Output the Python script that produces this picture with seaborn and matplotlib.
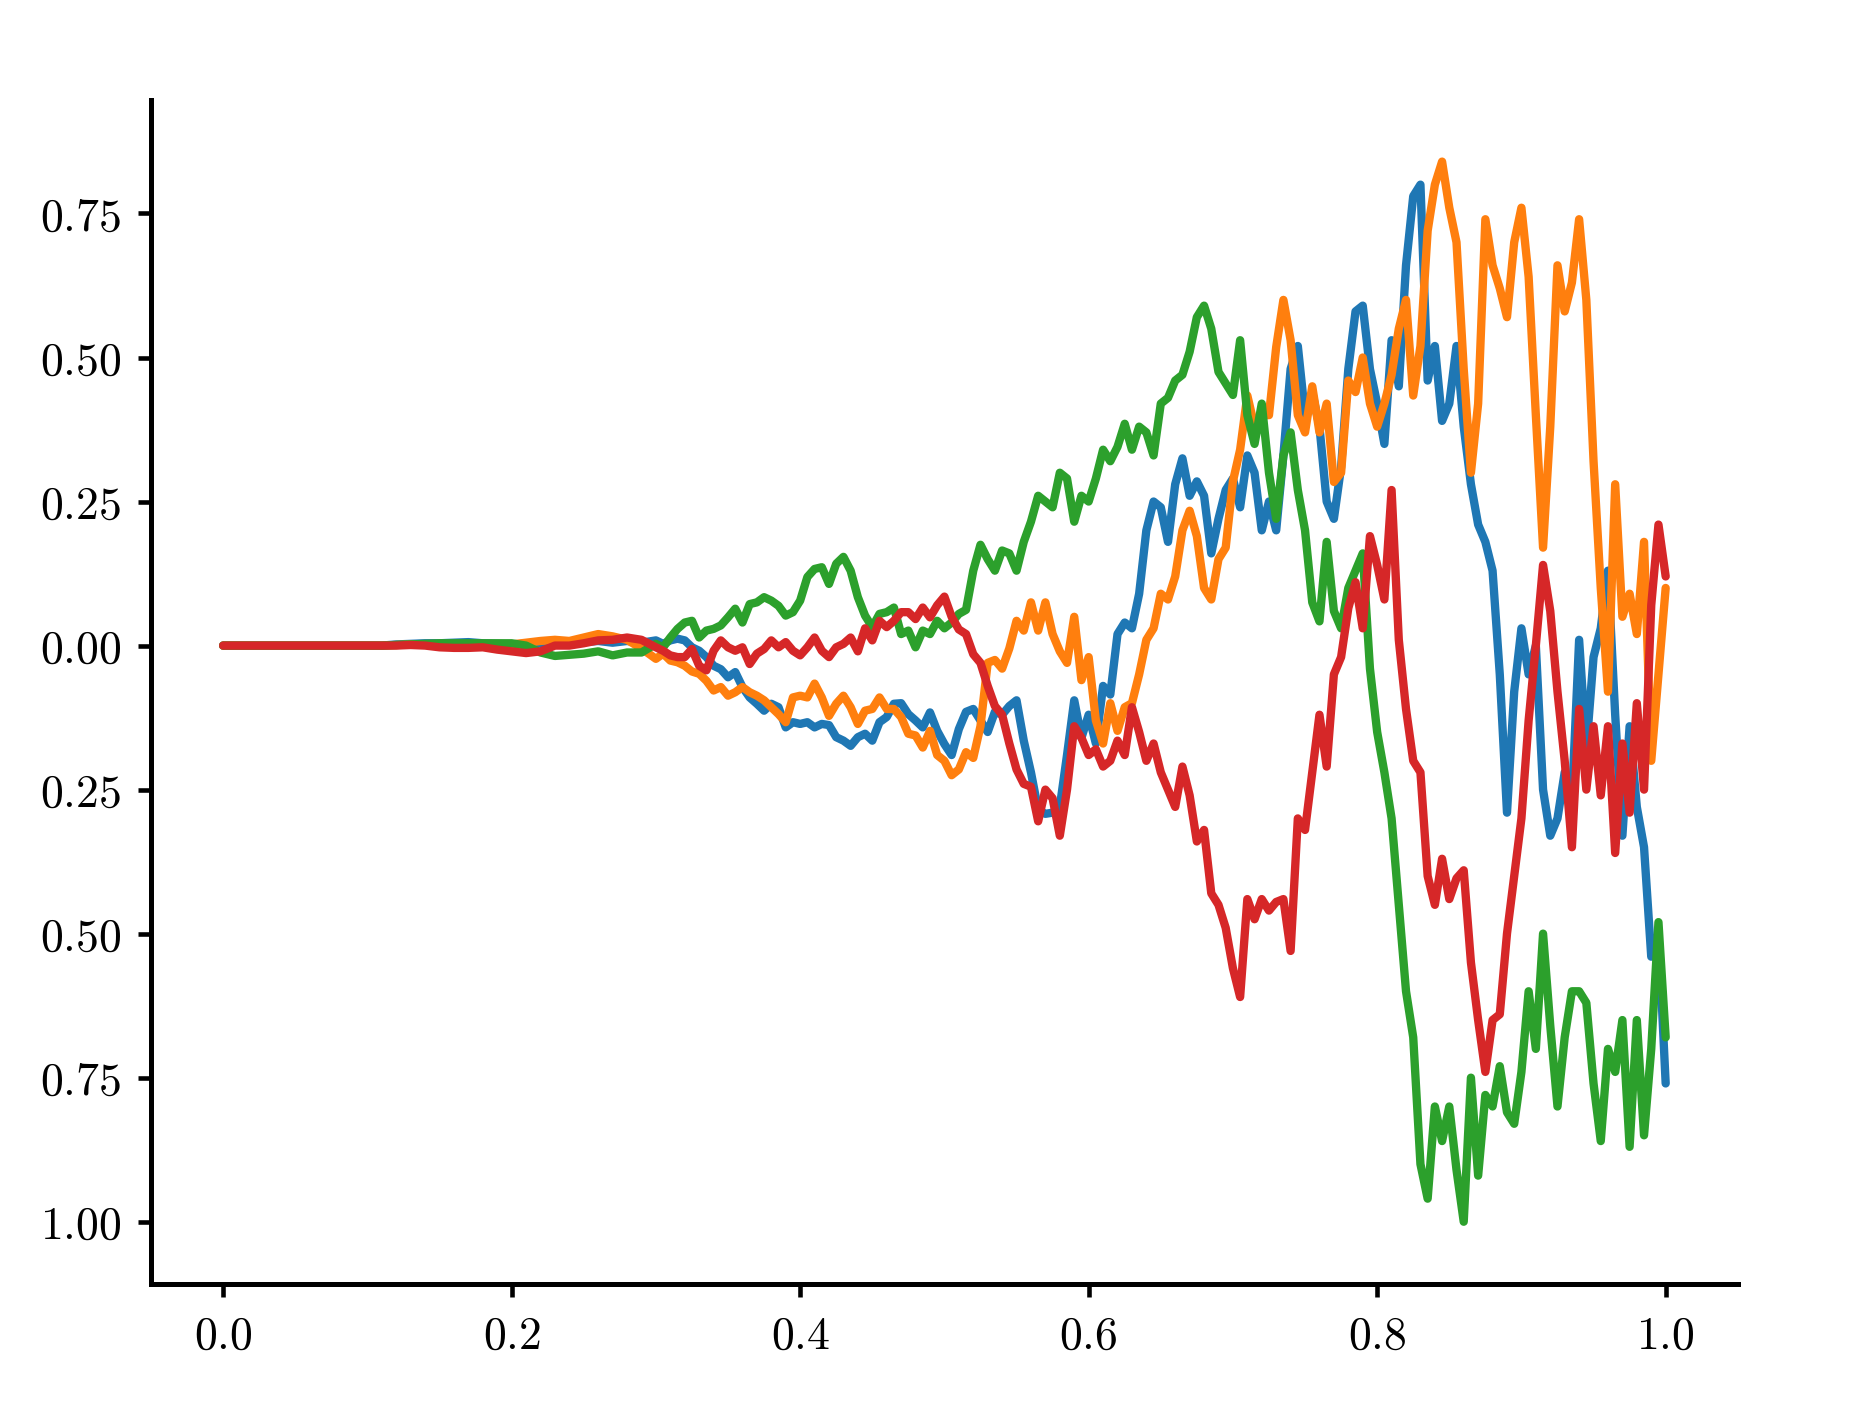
import numpy as np
import pandas as pd
import matplotlib
matplotlib.use("Agg")
import matplotlib.pyplot as plt
import seaborn as sns

# time grid: 0.01 steps up to 0.29, 0.005 steps from 0.30 where the paths get rough
t = np.concatenate([np.linspace(0, 0.29, 30), np.linspace(0.30, 1.0, 141)])

path_blue = [
    0, 0, 0, 0, 0, 0, 0, 0, 0, 0, 0,
    0.000, 0.002, 0.003, 0.004, 0.004, 0.005, 0.006, 0.004, 0.003, 0.002,
    0.003, 0.004, 0.005, 0.005, 0.006, 0.008, 0.005, 0.008, 0.005,
    # 0.30 - 0.50
    0.009, 0.003, 0.009, 0.012, 0.009, -0.003, -0.009, -0.020, -0.035, -0.041,
    -0.055, -0.046, -0.072, -0.090, -0.101, -0.113, -0.101, -0.107, -0.142, -0.133,
    -0.136, -0.133, -0.142, -0.136, -0.138, -0.159, -0.165, -0.174, -0.159, -0.153,
    -0.165, -0.133, -0.124, -0.101, -0.100, -0.119, -0.130, -0.142, -0.116, -0.148,
    -0.171,
    # 0.505 - 1.0
    -0.190, -0.145, -0.115, -0.110, -0.130, -0.150, -0.115, -0.120, -0.105, -0.095,
    -0.165, -0.220, -0.285, -0.292, -0.290, -0.280, -0.190, -0.095, -0.160, -0.120,
    -0.170, -0.070, -0.085, 0.020, 0.040, 0.030, 0.090, 0.200, 0.250, 0.240,
    0.180, 0.280, 0.325, 0.260, 0.285, 0.260, 0.160, 0.220, 0.270, 0.290,
    0.240, 0.330, 0.300, 0.200, 0.250, 0.200, 0.330, 0.480, 0.520, 0.400,
    0.440, 0.380, 0.250, 0.220, 0.310, 0.480, 0.580, 0.590, 0.480, 0.420,
    0.350, 0.530, 0.450, 0.660, 0.780, 0.800, 0.460, 0.520, 0.390, 0.420,
    0.520, 0.380, 0.280, 0.210, 0.180, 0.130, -0.050, -0.290, -0.080, 0.030,
    -0.050, 0.000, -0.250, -0.330, -0.300, -0.220, -0.270, 0.010, -0.180, -0.020,
    0.030, 0.130, -0.120, -0.330, -0.140, -0.280, -0.350, -0.540, -0.500, -0.760,
]

path_orange = [
    0, 0, 0, 0, 0, 0, 0, 0, 0, 0, 0,
    0.000, 0.001, 0.002, 0.002, 0.001, 0.000, -0.001, 0.000, 0.001, 0.002,
    0.005, 0.008, 0.010, 0.008, 0.014, 0.020, 0.016, 0.010, -0.005,
    # 0.30 - 0.50
    -0.023, -0.014, -0.026, -0.029, -0.035, -0.045, -0.049, -0.061, -0.078, -0.072,
    -0.087, -0.081, -0.072, -0.081, -0.087, -0.095, -0.107, -0.119, -0.133, -0.090,
    -0.087, -0.090, -0.066, -0.090, -0.122, -0.101, -0.087, -0.107, -0.136, -0.113,
    -0.110, -0.090, -0.110, -0.110, -0.124, -0.153, -0.156, -0.177, -0.148, -0.190,
    -0.200,
    # 0.505 - 1.0
    -0.225, -0.215, -0.185, -0.195, -0.140, -0.030, -0.025, -0.040, -0.005, 0.043,
    0.026, 0.075, 0.026, 0.075, 0.020, -0.010, -0.030, 0.050, -0.060, -0.020,
    -0.130, -0.170, -0.100, -0.148, -0.107, -0.100, -0.050, 0.010, 0.030, 0.090,
    0.080, 0.120, 0.200, 0.234, 0.190, 0.100, 0.080, 0.150, 0.170, 0.285,
    0.340, 0.434, 0.380, 0.400, 0.400, 0.518, 0.600, 0.530, 0.400, 0.370,
    0.450, 0.370, 0.420, 0.284, 0.300, 0.460, 0.440, 0.500, 0.420, 0.380,
    0.420, 0.470, 0.550, 0.600, 0.434, 0.520, 0.720, 0.800, 0.840, 0.760,
    0.700, 0.480, 0.300, 0.420, 0.740, 0.660, 0.620, 0.570, 0.700, 0.760,
    0.640, 0.400, 0.170, 0.380, 0.660, 0.580, 0.630, 0.740, 0.600, 0.320,
    0.100, -0.080, 0.280, 0.050, 0.090, 0.020, 0.180, -0.200, -0.050, 0.100,
]

path_green = [
    0, 0, 0, 0, 0, 0, 0, 0, 0, 0, 0,
    0.000, 0.001, 0.002, 0.003, 0.004, 0.004, 0.004, 0.004, 0.004, 0.004,
    0.000, -0.012, -0.018, -0.016, -0.014, -0.010, -0.017, -0.012, -0.012,
    # 0.30 - 0.50
    0.003, -0.003, 0.014, 0.029, 0.040, 0.043, 0.014, 0.026, 0.029, 0.035,
    0.049, 0.064, 0.040, 0.072, 0.075, 0.084, 0.078, 0.069, 0.052, 0.058,
    0.078, 0.119, 0.133, 0.136, 0.107, 0.142, 0.154, 0.130, 0.084, 0.052,
    0.032, 0.055, 0.058, 0.066, 0.020, 0.026, -0.003, 0.026, 0.020, 0.043,
    0.030,
    # 0.505 - 1.0
    0.040, 0.055, 0.062, 0.130, 0.175, 0.150, 0.130, 0.165, 0.160, 0.130,
    0.180, 0.215, 0.260, 0.250, 0.240, 0.300, 0.290, 0.215, 0.260, 0.250,
    0.290, 0.340, 0.320, 0.345, 0.385, 0.340, 0.380, 0.370, 0.330, 0.420,
    0.430, 0.460, 0.470, 0.510, 0.570, 0.590, 0.550, 0.475, 0.455, 0.435,
    0.530, 0.400, 0.350, 0.420, 0.300, 0.220, 0.330, 0.370, 0.270, 0.200,
    0.075, 0.042, 0.180, 0.060, 0.030, 0.100, 0.130, 0.160, -0.040, -0.150,
    -0.220, -0.300, -0.450, -0.600, -0.680, -0.900, -0.960, -0.800, -0.860, -0.800,
    -0.910, -1.000, -0.750, -0.920, -0.780, -0.800, -0.730, -0.810, -0.830, -0.740,
    -0.600, -0.700, -0.500, -0.660, -0.800, -0.680, -0.600, -0.600, -0.620, -0.760,
    -0.860, -0.700, -0.740, -0.650, -0.870, -0.650, -0.850, -0.700, -0.480, -0.680,
]

path_red = [
    0, 0, 0, 0, 0, 0, 0, 0, 0, 0, 0, 0, 0,
    0.001, 0.000, -0.003, -0.004, -0.004, -0.003, -0.007, -0.010,
    -0.013, -0.010, 0.000, 0.000, 0.004, 0.009, 0.010, 0.014, 0.010,
    # 0.30 - 0.50
    -0.003, -0.009, -0.017, -0.020, -0.020, -0.006, -0.035, -0.043, -0.009, 0.009,
    -0.003, -0.009, -0.003, -0.032, -0.014, -0.006, 0.009, -0.003, 0.006, -0.009,
    -0.017, -0.003, 0.014, -0.009, -0.020, -0.003, 0.003, 0.014, -0.010, 0.030,
    0.009, 0.043, 0.032, 0.043, 0.058, 0.058, 0.046, 0.066, 0.049, 0.070,
    0.085,
    # 0.505 - 1.0
    0.050, 0.028, 0.020, -0.015, -0.030, -0.070, -0.105, -0.120, -0.170, -0.215,
    -0.240, -0.245, -0.305, -0.250, -0.265, -0.330, -0.250, -0.140, -0.160, -0.190,
    -0.180, -0.210, -0.200, -0.165, -0.190, -0.107, -0.150, -0.200, -0.170, -0.220,
    -0.250, -0.280, -0.210, -0.260, -0.340, -0.320, -0.430, -0.450, -0.490, -0.560,
    -0.610, -0.440, -0.475, -0.440, -0.460, -0.445, -0.440, -0.530, -0.300, -0.320,
    -0.220, -0.120, -0.210, -0.050, -0.020, 0.065, 0.110, 0.030, 0.190, 0.140,
    0.080, 0.270, 0.010, -0.110, -0.200, -0.220, -0.400, -0.450, -0.370, -0.440,
    -0.404, -0.390, -0.550, -0.650, -0.740, -0.650, -0.640, -0.500, -0.400, -0.300,
    -0.130, 0.000, 0.140, 0.060, -0.080, -0.200, -0.350, -0.110, -0.250, -0.140,
    -0.260, -0.140, -0.360, -0.170, -0.290, -0.100, -0.250, 0.070, 0.210, 0.120,
]

path_names = ["path 1", "path 2", "path 3", "path 4"]
path_colors = ["#1f77b4", "#ff7f0e", "#2ca02c", "#d62728"]

xticks = [0.0, 0.2, 0.4, 0.6, 0.8, 1.0]
xtick_labels = ["0.0", "0.2", "0.4", "0.6", "0.8", "1.0"]
yticks = [-1.0, -0.75, -0.5, -0.25, 0.0, 0.25, 0.5, 0.75]
# the reference prints the negative ticks without their minus sign
ytick_labels = ["1.00", "0.75", "0.50", "0.25", "0.00", "0.25", "0.50", "0.75"]

paths = [path_blue, path_orange, path_green, path_red]
df = pd.concat(
    [pd.DataFrame({"t": t, "value": vals, "path": name})
     for name, vals in zip(path_names, paths)],
    ignore_index=True,
)

sns.set_style("ticks")
plt.rcParams["mathtext.fontset"] = "cm"
plt.rcParams["axes.edgecolor"] = "black"
plt.rcParams["xtick.color"] = "black"
plt.rcParams["ytick.color"] = "black"
plt.rcParams["text.color"] = "black"

fig = plt.figure(figsize=(1869 / 300, 1410 / 300), dpi=300)
ax = fig.add_axes([0.0808, 0.0894, 0.849, 0.8397])

sns.lineplot(data=df, x="t", y="value", hue="path", palette=path_colors,
             linewidth=2.0, errorbar=None, legend=False, ax=ax)

ax.set_xlim(-0.05, 1.05)
ax.set_ylim(-1.108, 0.947)
ax.set_xticks(xticks)
ax.set_xticklabels([f"${s}$" for s in xtick_labels])
ax.set_yticks(yticks)
ax.set_yticklabels([f"${s}$" for s in ytick_labels])
ax.set_xlabel("")
ax.set_ylabel("")
ax.tick_params(axis="both", labelsize=11, length=3.1, width=1.1, pad=4)
for side in ["left", "bottom"]:
    ax.spines[side].set_linewidth(1.2)
sns.despine(ax=ax)

fig.savefig("out.png", dpi=300)
